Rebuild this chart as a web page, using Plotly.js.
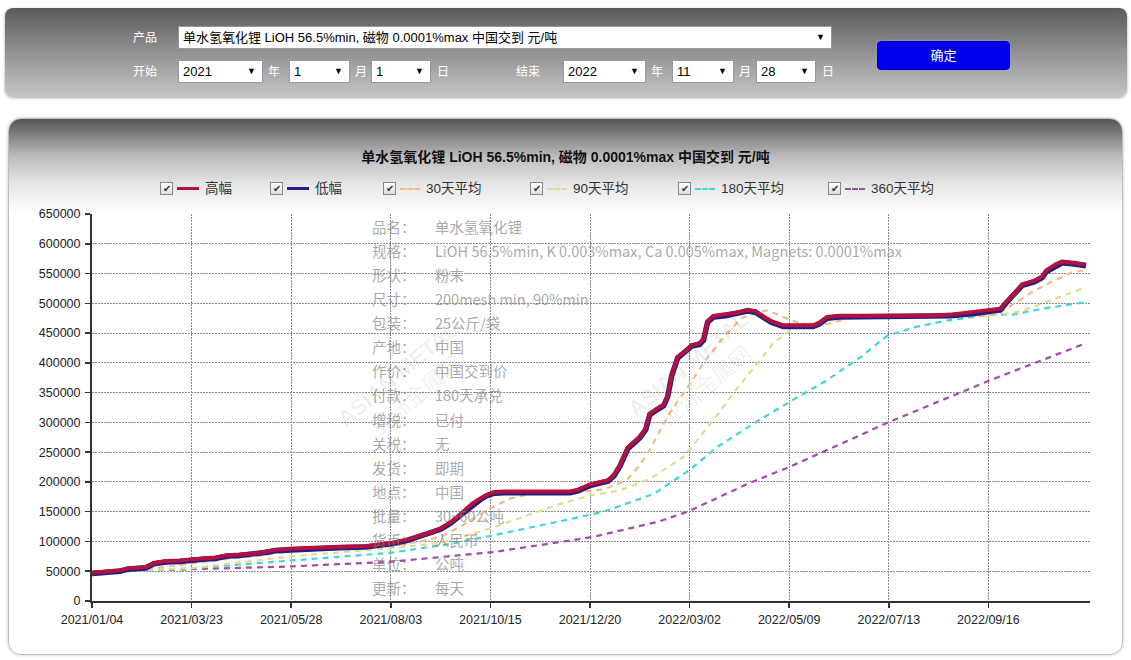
<!DOCTYPE html>
<html><head><meta charset="utf-8">
<script src="https://cdn.plot.ly/plotly-3.0.1.min.js"></script>
<style>
body{margin:0;width:1131px;height:660px;overflow:hidden;background:#fff;font-family:"Liberation Sans",Arial,"Noto Sans CJK SC",sans-serif;position:relative}
#ctrl{position:absolute;left:5px;top:8px;width:1122px;height:89px;border-radius:8px;background:linear-gradient(#5a5a5a,#8c8c8c 45%,#c6c6c6);box-shadow:0 1px 3px rgba(0,0,0,.35)}
.lab{position:absolute;color:#fff;font-size:12px;font-family:"Noto Sans CJK SC",sans-serif;line-height:16px}
.sel{position:absolute;background:#fff;border:1px solid #999;height:23px;font-size:13px;line-height:21px;padding-left:4px;box-sizing:border-box;color:#000;font-family:"Liberation Sans","Noto Sans CJK SC",sans-serif}
.sel .arr{position:absolute;right:6px;top:0;font-size:9px}
#btn{position:absolute;left:877px;top:41px;width:133px;height:29px;background:#0000ee;border-radius:4px;color:#fff;font-size:13px;text-align:center;line-height:25px;border:1px solid #0000aa;box-sizing:border-box;box-shadow:0 0 3px #99f;font-family:"Noto Sans CJK SC",sans-serif}
#panel{position:absolute;left:8px;top:118px;width:1115px;height:537px;border:1px solid #bdbdbd;border-radius:13px;box-sizing:border-box;background:linear-gradient(#555 0px,#bdbdbd 38px,#e9e9e9 68px,#fff 95px);box-shadow:0 0 3px rgba(0,0,0,.25)}
#chart{position:absolute;left:0;top:0;width:1131px;height:660px}
#legend{position:absolute;left:0;top:0}
.li{position:absolute;top:181px;height:16px;font-size:13.5px;color:#333;font-family:"Liberation Sans","Noto Sans CJK SC",sans-serif;white-space:nowrap;line-height:16px}
.cb{position:absolute;left:0;top:1px;width:11px;height:11px;border:1px solid #888;background:linear-gradient(#fff,#ddd);font-size:10px;line-height:11px;text-align:center;color:#333}
.sw{position:absolute;left:17px;top:7px;width:22px;height:0}
.tx{position:absolute;left:45px;top:0}
</style></head>
<body>
<div id="ctrl"></div>
<div class="lab" style="left:133px;top:29px">产品</div>
<div class="sel" style="left:178px;top:26px;width:654px">单水氢氧化锂 LiOH 56.5%min, 磁物 0.0001%max 中国交到 元/吨<span class="arr">▼</span></div>
<div class="lab" style="left:133px;top:63px">开始</div>
<div class="sel" style="left:178px;top:60px;width:85px">2021<span class="arr">▼</span></div>
<div class="lab" style="left:268px;top:63px">年</div>
<div class="sel" style="left:289px;top:60px;width:61px">1<span class="arr">▼</span></div>
<div class="lab" style="left:355px;top:63px">月</div>
<div class="sel" style="left:371px;top:60px;width:60px">1<span class="arr">▼</span></div>
<div class="lab" style="left:437px;top:63px">日</div>
<div class="lab" style="left:516px;top:63px">结束</div>
<div class="sel" style="left:563px;top:60px;width:83px">2022<span class="arr">▼</span></div>
<div class="lab" style="left:651px;top:63px">年</div>
<div class="sel" style="left:672px;top:60px;width:62px">11<span class="arr">▼</span></div>
<div class="lab" style="left:739px;top:63px">月</div>
<div class="sel" style="left:756px;top:60px;width:60px">28<span class="arr">▼</span></div>
<div class="lab" style="left:822px;top:63px">日</div>
<div id="btn">确定</div>
<div id="panel"></div>
<div id="chart"></div>
<div id="legend"></div>
<script>
// ---- data (x = trading-day index on the chart's category scale) ----
const tickIdx = [0,50,100,150,200,250,300,350,400,450];
const tickText = ['2021/01/04','2021/03/23','2021/05/28','2021/08/03','2021/10/15','2021/12/20','2022/03/02','2022/05/09','2022/07/13','2022/09/16'];

const highX = [0,7,14,18,27,31,37,44,51,57,62,68,74,82,87,92,101,109,124,137,145,151,158,165,170,175,180,183,187,191,195,198,202,207,240,244,250,255,259,262,265,269,272,275,278,280,284,287,289,291,294,298,301,305,307,309,312,318,323,329,333,337,341,347,355,362,365,369,375,406,421,431,443,451,456,459,463,467,473,477,479,484,487,493,499];
const highY = [47500,49000,51500,55000,57000,64000,67000,68000,71000,72000,73000,77000,78000,80000,83000,86000,88000,89500,91000,92000,95000,98000,103000,110000,115000,122000,132000,140000,152000,164000,172000,178000,183000,184000,184000,187000,196000,200000,203000,212000,228000,258000,268000,276000,290000,315000,324000,330000,345000,380000,410000,420000,430000,433000,440000,470000,479000,481000,484000,489000,487000,478000,470000,463000,463000,463000,467000,477000,479000,479000,479000,481000,485000,488000,491000,503000,516000,532000,538000,545000,555000,566000,570000,568000,565000];
const lowX = highX;
const lowY = [46000,47500,50000,53500,55500,62500,65500,66500,69500,70500,71500,75500,76500,78500,81500,84500,86500,88000,89500,90500,93500,96500,101500,108500,113500,120500,130500,138500,150500,162500,170500,176500,181000,182000,182000,185000,194000,198000,201000,210000,226000,256000,266000,274000,288000,313000,322000,328000,343000,378000,408000,418000,428000,431000,438000,468000,477000,479000,482000,487000,485000,476000,468000,461000,461000,461000,465000,475000,477000,477000,477000,479000,483000,486000,489000,501000,514000,530000,536000,543000,553000,564000,568000,566000,563000];

const ma30X = [0,19,34,50,69,84,100,114,135,150,165,175,185,200,210,221,235,250,257,263,269,275,280,285,290,299,307,317,326,333,339,345,352,360,370,381,391,451,456,463,471,481,492,499];
const ma30Y = [49000,51500,56000,63000,71000,76000,84000,88000,90000,93000,100000,108000,125000,156000,172000,181000,184000,185000,188000,195000,205000,228000,254000,285000,316000,359000,400000,443000,475000,484000,488000,480000,470000,464000,466000,476000,479000,480000,484000,500000,517000,535000,552000,556000];

const ma90X = [0,19,50,100,150,175,200,220,235,250,265,280,297,312,322,334,342,350,360,370,381,396,451,466,481,499];
const ma90Y = [49000,50500,55000,75000,89000,97000,122000,145000,163000,177000,186000,205000,242000,304000,349000,399000,433000,453000,466000,473000,476000,478000,479000,486000,505000,527000];

const ma180X = [0,19,50,68,100,135,150,180,201,235,257,282,300,314,335,352,369,386,399,412,429,451,462,479,499];
const ma180Y = [49000,50000,55000,60000,68000,77000,81000,96000,110000,134000,150000,180000,220000,259000,304000,338000,371000,410000,445000,459000,471000,481000,481000,492000,502000];

const ma360X = [0,19,50,100,150,201,235,252,284,299,330,350,386,399,451,499];
const ma360Y = [49000,50500,54000,58000,66000,82000,99000,108000,133000,150000,198000,225000,279000,299000,371000,433000];

const seriesNames = ['高幅','低幅','30天平均','90天平均','180天平均','360天平均'];
const seriesColors = ['#b3123f','#1f1f86','#f2bb86','#e2dc8e','#45d3dc','#a04aaa'];

const infoLabels = ['品名：','规格：','形状：','尺寸：','包装：','产地：','作价：','付款：','增税：','关税：','发货：','地点：','批量：','货币：','单位：','更新：'];
const infoValues = ['单水氢氧化锂','LiOH 56.5%min, K 0.003%max, Ca 0.005%max, Magnets: 0.0001%max','粉末','200mesh min, 90%min','25公斤/袋','中国','中国交到价','180天承兑','已付','无','即期','中国','30~60公吨','人民币','公吨','每天'];

const titleText = '单水氢氧化锂 LiOH 56.5%min, 磁物 0.0001%max 中国交到 元/吨';

// ---- traces ----
function dashed(x, y, i){
  return {x:x, y:y, name:seriesNames[i], type:'scatter', mode:'lines',
    line:{color:seriesColors[i], width:2.2, dash:'6px,5px'}, hoverinfo:'skip'};
}
const traces = [
  dashed(ma360X, ma360Y, 5),
  dashed(ma180X, ma180Y, 4),
  dashed(ma90X, ma90Y, 3),
  dashed(ma30X, ma30Y, 2),
  {x:lowX, y:lowY, name:seriesNames[1], type:'scatter', mode:'lines', line:{color:seriesColors[1], width:5.5}},
  {x:highX, y:highY, name:seriesNames[0], type:'scatter', mode:'lines', line:{color:seriesColors[0], width:4}}
];

// ---- layout ----
const L = 92, R = 1090, T = 214, B = 601;
const annotations = [];
const lineStep = 24.13;
infoLabels.forEach((lab, i) => {
  const yp = (B - (226 + i*lineStep)) / (B - T);
  annotations.push({xref:'paper', yref:'paper', x:(370-L)/(R-L), y:yp, xanchor:'left', yanchor:'middle',
    text:lab, showarrow:false, font:{size:14.5, color:'rgba(130,130,130,0.7)', family:'"Noto Sans CJK SC", sans-serif'}});
  annotations.push({xref:'paper', yref:'paper', x:(433-L)/(R-L), y:yp, xanchor:'left', yanchor:'middle',
    text:infoValues[i], showarrow:false, font:{size:14.5, color:'rgba(130,130,130,0.7)', family:'"Noto Sans CJK SC", sans-serif'}});
});
// faint watermarks
[[330,385],[775,375]].forEach(p => {
  annotations.push({xref:'paper', yref:'paper', x:(p[0]-L)/(R-L), y:(B-p[1])/(B-T), text:'<b>ASIAN METAL</b><br>亚洲金属网',
    showarrow:false, textangle:-40, font:{size:22, color:'rgba(0,0,0,0.07)', family:'"Liberation Sans","Noto Sans CJK SC"'}});
});

const axisCommon = {showgrid:true, gridcolor:'#8a8a8a', griddash:'1.5px,1.5px', gridwidth:1, zeroline:false,
  showline:true, linecolor:'#333', linewidth:2, ticks:'outside', ticklen:5, tickwidth:1.5, tickcolor:'#333',
  tickfont:{size:12.5, color:'#222', family:'"Liberation Sans", Arial, sans-serif'}, fixedrange:true};

const layout = {
  width:1131, height:660,
  margin:{l:L, r:1131-R, t:T, b:660-B, pad:0},
  paper_bgcolor:'rgba(0,0,0,0)', plot_bgcolor:'rgba(255,255,255,0)',
  showlegend:false,
  title:{text:'<b>'+titleText+'</b>', x:0.5, xref:'container', xanchor:'center', y:1-157/660, yref:'container', yanchor:'middle',
    font:{size:14, color:'#111', family:'"Liberation Sans", Arial, "Noto Sans CJK SC", sans-serif'}},
  xaxis:Object.assign({}, axisCommon, {range:[0,(R-L)/1.992], tickmode:'array', tickvals:tickIdx, ticktext:tickText, ticklabelstandoff:1}),
  yaxis:Object.assign({}, axisCommon, {range:[0,650000], dtick:50000, tickformat:'d', ticklabelstandoff:2}),
  annotations:annotations
};

Plotly.newPlot('chart', traces, layout, {staticPlot:true, displayModeBar:false});

// ---- legend (with checkboxes like the source page) ----
const legendLeft = [160,270,383,530,678,828];
const lg = document.getElementById('legend');
seriesNames.forEach((n, i) => {
  const d = document.createElement('div');
  d.className = 'li';
  d.style.left = legendLeft[i] + 'px';
  const solid = i < 2;
  const sw = solid ? 'border-top:3px solid '+seriesColors[i]+';top:6px;'
                   : 'border-top:2px dashed '+seriesColors[i]+';top:7px;width:20px;';
  d.innerHTML = '<span class="cb">✔</span><span class="sw" style="'+sw+'"></span><span class="tx" style="left:'+(solid?45:43)+'px">'+n+'</span>';
  lg.appendChild(d);
});
</script>
</body></html>
